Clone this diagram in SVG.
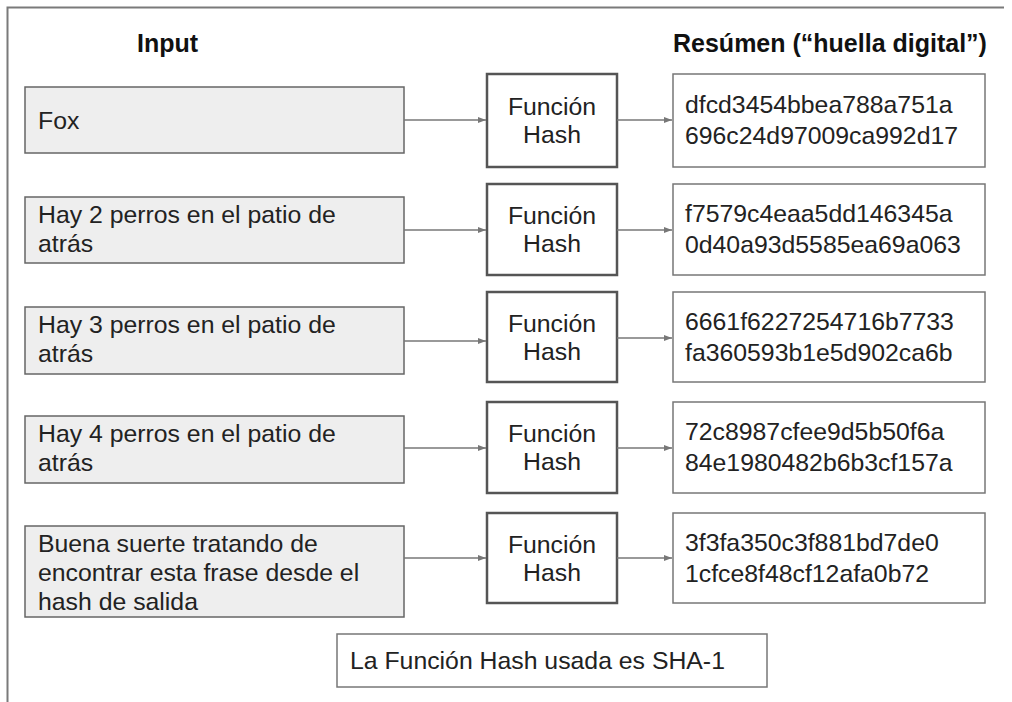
<svg xmlns="http://www.w3.org/2000/svg" width="1012" height="702" viewBox="0 0 1012 702">
<defs>
<marker id="ah" markerWidth="8" markerHeight="6" refX="8" refY="3" orient="auto" markerUnits="userSpaceOnUse">
<path d="M0,0 L8,3 L0,6 Z" fill="#777"/>
</marker>
<style>
text{font-family:"Liberation Sans",Arial,sans-serif;font-size:24.8px;fill:#222}
.hd{font-weight:bold;fill:#111;font-size:25px}
.in{fill:#eeeeee;stroke:#666;stroke-width:1.5}
.hs{fill:#fff;stroke:#555;stroke-width:2.5}
.out{fill:#fff;stroke:#777;stroke-width:1.5}
.c{text-anchor:middle}
.conn line{stroke:#777;stroke-width:1.5;marker-end:url(#ah)}
</style>
</defs>
<rect width="1012" height="702" fill="#fff"/>
<path d="M7.5,702 V7.5 H1004" fill="none" stroke="#7a7a7a" stroke-width="2"/>
<text class="hd" x="137" y="52">Input</text>
<text class="hd" x="673" y="52">Resúmen (“huella digital”)</text>

<g id="in1"><rect class="in" x="25" y="87" width="379" height="66"/><text x="38" y="129">Fox</text></g>
<g id="in2"><rect class="in" x="25" y="197" width="379" height="66"/><text x="38" y="223">Hay 2 perros en el patio de</text><text x="38" y="252">atrás</text></g>
<g id="in3"><rect class="in" x="25" y="307" width="379" height="67"/><text x="38" y="333">Hay 3 perros en el patio de</text><text x="38" y="362">atrás</text></g>
<g id="in4"><rect class="in" x="25" y="416" width="379" height="67"/><text x="38" y="442">Hay 4 perros en el patio de</text><text x="38" y="471">atrás</text></g>
<g id="in5"><rect class="in" x="25" y="526" width="379" height="91"/><text x="38" y="552">Buena suerte tratando de</text><text x="38" y="581">encontrar esta frase desde el</text><text x="38" y="610">hash de salida</text></g>

<g id="h1"><rect class="hs" x="487" y="74" width="130" height="93"/><text class="c" x="552" y="115">Función</text><text class="c" x="552" y="143">Hash</text></g>
<g id="h2"><rect class="hs" x="487" y="184" width="130" height="91"/><text class="c" x="552" y="224">Función</text><text class="c" x="552" y="252">Hash</text></g>
<g id="h3"><rect class="hs" x="487" y="292" width="130" height="90"/><text class="c" x="552" y="332">Función</text><text class="c" x="552" y="360">Hash</text></g>
<g id="h4"><rect class="hs" x="487" y="402" width="130" height="91"/><text class="c" x="552" y="442">Función</text><text class="c" x="552" y="470">Hash</text></g>
<g id="h5"><rect class="hs" x="487" y="513" width="130" height="90"/><text class="c" x="552" y="553">Función</text><text class="c" x="552" y="581">Hash</text></g>

<g id="o1"><rect class="out" x="673" y="74" width="312" height="93"/><text x="685" y="113">dfcd3454bbea788a751a</text><text x="685" y="144">696c24d97009ca992d17</text></g>
<g id="o2"><rect class="out" x="673" y="184" width="312" height="91"/><text x="685" y="222">f7579c4eaa5dd146345a</text><text x="685" y="253">0d40a93d5585ea69a063</text></g>
<g id="o3"><rect class="out" x="673" y="292" width="312" height="90"/><text x="685" y="330">6661f6227254716b7733</text><text x="685" y="361">fa360593b1e5d902ca6b</text></g>
<g id="o4"><rect class="out" x="673" y="402" width="312" height="91"/><text x="685" y="440">72c8987cfee9d5b50f6a</text><text x="685" y="471">84e1980482b6b3cf157a</text></g>
<g id="o5"><rect class="out" x="673" y="513" width="312" height="90"/><text x="685" y="551">3f3fa350c3f881bd7de0</text><text x="685" y="582">1cfce8f48cf12afa0b72</text></g>

<g id="note"><rect class="out" x="337" y="634" width="430" height="53"/><text x="350" y="669">La Función Hash usada es SHA-1</text></g>

<g class="conn">
<line x1="404" y1="120" x2="486" y2="120"/><line x1="617" y1="120" x2="672" y2="120"/>
<line x1="404" y1="230" x2="486" y2="230"/><line x1="617" y1="230" x2="672" y2="230"/>
<line x1="404" y1="341" x2="486" y2="341"/><line x1="617" y1="338" x2="672" y2="338"/>
<line x1="404" y1="448" x2="486" y2="448"/><line x1="617" y1="448" x2="672" y2="448"/>
<line x1="404" y1="558" x2="486" y2="558"/><line x1="617" y1="558" x2="672" y2="558"/>
</g>
</svg>
